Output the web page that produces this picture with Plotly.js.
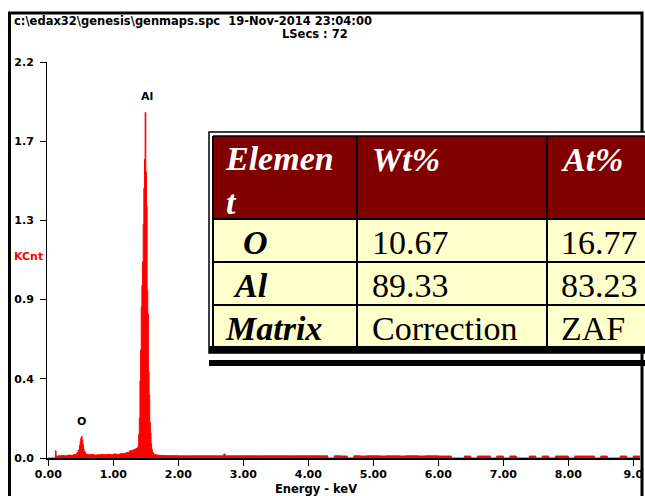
<!DOCTYPE html>
<html>
<head>
<meta charset="utf-8">
<script src="https://cdn.plot.ly/plotly-3.0.1.min.js"></script>
<style>html,body{margin:0;padding:0;background:#fff;}#chart{width:645px;height:496px;}</style>
</head>
<body>
<div id="chart"></div>
<script>
// ---- Spectrum data (energy keV, counts in KCnt) ----
const energy = [
  0.00, 0.10, 0.11, 0.12, 0.15, 0.20, 0.25, 0.30, 0.35, 0.38, 0.41, 0.44, 0.46, 0.48, 0.49,
  0.50, 0.51, 0.52, 0.53, 0.54, 0.55, 0.57, 0.60, 0.65, 0.70, 0.75, 0.80, 0.85, 0.90, 0.95,
  1.00, 1.05, 1.10, 1.15, 1.20, 1.25, 1.30, 1.33, 1.36, 1.38, 1.39, 1.40, 1.41, 1.42, 1.43,
  1.44, 1.45, 1.46, 1.47, 1.48, 1.49, 1.50, 1.51, 1.52, 1.53, 1.54, 1.55, 1.56, 1.57, 1.58,
  1.59, 1.60, 1.62, 1.66, 1.70, 1.80, 1.90, 2.00, 2.10, 2.20, 2.30, 2.40, 2.50, 2.60, 2.70,
  2.72, 2.80, 2.90, 3.00, 3.10, 3.20, 3.30, 3.40, 3.50, 3.60, 3.70, 3.80, 3.90, 4.00, 4.10,
  4.20, 4.30, 4.40, 4.50, 4.60, 4.70, 4.80, 4.90, 5.00, 5.10, 5.20, 5.30, 5.40, 5.50, 5.60,
  5.70, 5.80, 5.90, 6.00, 6.10, 6.20, 6.30, 6.40, 6.50, 6.60, 6.70, 6.80, 6.90, 7.00, 7.10,
  7.20, 7.30, 7.40, 7.50, 7.60, 7.70, 7.80, 7.90, 8.00, 8.10, 8.20, 8.30, 8.40, 8.50, 8.60,
  8.70, 8.80, 8.90, 9.00, 9.10
];
const counts = [
  0.000, 0.000, 0.040, 0.010, 0.012, 0.014, 0.012, 0.016, 0.014, 0.018, 0.020, 0.030, 0.045, 0.070, 0.090,
  0.110, 0.120, 0.100, 0.075, 0.050, 0.035, 0.022, 0.018, 0.020, 0.016, 0.018, 0.020, 0.018, 0.020, 0.018,
  0.022, 0.020, 0.024, 0.026, 0.030, 0.040, 0.045, 0.050, 0.055, 0.065, 0.130, 0.220, 0.430, 0.600, 0.840,
  0.960, 1.090, 1.300, 1.500, 1.660, 1.920, 1.590, 1.400, 0.930, 0.800, 0.480, 0.350, 0.200, 0.140, 0.080,
  0.050, 0.030, 0.020, 0.016, 0.014, 0.013, 0.013, 0.012, 0.012, 0.012, 0.012, 0.012, 0.012, 0.012, 0.022,
  0.012, 0.012, 0.012, 0.012, 0.012, 0.012, 0.012, 0.012, 0.012, 0.012, 0.012, 0.012, 0.012, 0.012, 0.012,
  0.012, 0.000, 0.012, 0.011, 0.000, 0.012, 0.011, 0.012, 0.012, 0.011, 0.012, 0.012, 0.011, 0.012, 0.012,
  0.011, 0.012, 0.012, 0.011, 0.011, 0.000, 0.000, 0.011, 0.000, 0.011, 0.011, 0.000, 0.011, 0.000, 0.011,
  0.000, 0.000, 0.011, 0.000, 0.011, 0.000, 0.011, 0.011, 0.000, 0.011, 0.011, 0.011, 0.000, 0.011, 0.000,
  0.000, 0.011, 0.000, 0.011, 0.000
];

// ---- Axis ticks ----
const xTickVals = [0, 1, 2, 3, 4, 5, 6, 7, 8, 9];
const xTickText = ['0.00', '1.00', '2.00', '3.00', '4.00', '5.00', '6.00', '7.00', '8.00', '9.0'];
const yTickVals = [0, 0.44, 0.88, 1.32, 1.76, 2.2];
const yTickText = ['0.0', '0.4', '0.9', '1.3', '1.7', '2.2'];

// ---- Peak labels ----
const peakLabels = ['O', 'Al'];
const peakEnergy = [0.51, 1.515];
const peakLabelY = [0.205, 2.01];

// ---- Header texts ----
const fileLine = 'c:\\edax32\\genesis\\genmaps.spc\u00a0\u00a019-Nov-2014 23:04:00';
const lsecsLine = 'LSecs : 72';
const yUnit = 'KCnt';
const xTitle = 'Energy - keV';

// ---- Quantification table ----
const tableHeader = ['Elemen<br>t', 'Wt%', 'At%'];
const tableElements = ['O', 'Al', 'Matrix'];
const tableWt = ['10.67', '89.33', 'Correction'];
const tableAt = ['16.77', '83.23', 'ZAF'];

// ---- pixel helpers (margins are zero, paper == whole figure) ----
const W = 645, H = 496;
const PX = p => p / W;
const PY = p => 1 - p / H;

const plotL = 47, plotR = 640, plotT = 62, plotB = 458;
const x0px = 48.3, pxPerKeV = 65;

function rect(x0, y0, x1, y1, fill, lineColor, lineW) {
  return {type: 'rect', xref: 'paper', yref: 'paper', layer: 'above',
    x0: PX(x0), x1: PX(x1), y0: PY(y1), y1: PY(y0),
    fillcolor: fill, line: {color: lineColor || 'rgba(0,0,0,0)', width: lineW || 0}};
}
function hline(x0, x1, y, w) {
  return {type: 'line', xref: 'paper', yref: 'paper', layer: 'above',
    x0: PX(x0), x1: PX(x1), y0: PY(y), y1: PY(y), line: {color: '#000', width: w}};
}
function vline(x, y0, y1, w) {
  return {type: 'line', xref: 'paper', yref: 'paper', layer: 'above',
    x0: PX(x), x1: PX(x), y0: PY(y0), y1: PY(y1), line: {color: '#000', width: w}};
}

const shapes = [
  rect(9.5, 13, 642, 540, 'rgba(0,0,0,0)', '#000', 3),
  // table
  rect(209, 132, 660, 353, '#ffffff', '#000', 1.5),
  rect(213, 136, 660, 219, '#800000'),
  rect(213, 219, 660, 348, '#ffffcc'),
  hline(213, 660, 136, 1.5),
  hline(213, 660, 219, 2),
  hline(213, 660, 262, 2),
  hline(213, 660, 305, 2),
  rect(209, 346, 660, 353, '#000'),
  vline(213, 136, 348, 2),
  vline(357, 136, 348, 2),
  vline(547, 136, 348, 2),
  rect(209, 360, 660, 366, '#000')
];

const serifFont = 'Liberation Serif, Times New Roman, serif';
const sansFam = 'DejaVu Sans, Verdana, sans-serif';
const sansBold = {family: sansFam, size: 11, color: '#000', weight: 'bold'};
const headBold = {family: sansFam, size: 11.5, color: '#000', weight: 'bold'};

const annotations = [];
function addText(text, x, y, font, xanchor, yanchor) {
  annotations.push({text: text, xref: 'paper', yref: 'paper', x: PX(x), y: PY(y),
    xanchor: xanchor || 'left', yanchor: yanchor || 'middle', showarrow: false, font: font,
    borderpad: 0});
}
addText(fileLine, 13, 21, headBold);
addText(lsecsLine, 315, 34, headBold, 'center');
addText(yUnit, 28, 256, {family: sansFam, size: 11, color: '#ff0000', weight: 'bold'}, 'center');
addText(xTitle, 316, 489, headBold, 'center');

for (let i = 0; i < peakLabels.length; i++) {
  annotations.push({text: peakLabels[i], xref: 'x', yref: 'y', x: peakEnergy[i], y: peakLabelY[i],
    showarrow: false, font: {family: sansFam, size: 11, color: '#000', weight: 'bold'}});
}

const hdrFont = {family: serifFont, size: 34, color: '#ffffff', weight: 'bold', style: 'italic'};
const elFont = {family: serifFont, size: 34, color: '#000000', weight: 'bold', style: 'italic'};
const numFont = {family: serifFont, size: 34, color: '#000000'};
const colLeft = [224, 371, 560];
const elemLeft = [242, 232, 224];
const rowMid = [242, 285, 328];
annotations.push({text: tableHeader[0], xref: 'paper', yref: 'paper', x: PX(colLeft[0]), y: PY(139),
  xanchor: 'left', yanchor: 'top', align: 'left', showarrow: false, font: hdrFont, borderpad: 0});
addText(tableHeader[1], colLeft[1], 160, hdrFont);
addText(tableHeader[2], colLeft[2], 160, hdrFont);
for (let r = 0; r < tableElements.length; r++) {
  addText(tableElements[r], elemLeft[r], rowMid[r], elFont);
  addText(tableWt[r], colLeft[1], rowMid[r], numFont);
  addText(tableAt[r], colLeft[2], rowMid[r], numFont);
}

const trace = {
  type: 'scatter', mode: 'lines', x: energy, y: counts,
  line: {color: '#ff0000', width: 1, shape: 'hv'},
  fill: 'tozeroy', fillcolor: '#ff0000', hoverinfo: 'skip'
};

const layout = {
  width: W, height: H,
  margin: {l: 0, r: 0, t: 0, b: 0, pad: 0},
  paper_bgcolor: '#ffffff', plot_bgcolor: '#ffffff',
  showlegend: false,
  xaxis: {
    domain: [PX(plotL), PX(plotR)],
    range: [(plotL - x0px) / pxPerKeV, (plotR - x0px) / pxPerKeV],
    tickvals: xTickVals, ticktext: xTickText,
    ticks: 'outside', ticklen: 6, tickwidth: 1, tickcolor: '#000',
    showline: true, linecolor: '#000', linewidth: 2,
    showgrid: false, zeroline: false, fixedrange: true,
    tickfont: sansBold, ticklabelstandoff: -1
  },
  yaxis: {
    domain: [PY(plotB), PY(plotT)],
    range: [0, 2.2],
    tickvals: yTickVals, ticktext: yTickText,
    ticks: 'outside', ticklen: 6, tickwidth: 1, tickcolor: '#000',
    showline: true, linecolor: '#000', linewidth: 1,
    showgrid: false, zeroline: false, fixedrange: true,
    tickfont: sansBold, ticklabelstandoff: 4
  },
  shapes: shapes,
  annotations: annotations
};

Plotly.newPlot('chart', [trace], layout, {displayModeBar: false, staticPlot: true});
</script>
</body>
</html>
